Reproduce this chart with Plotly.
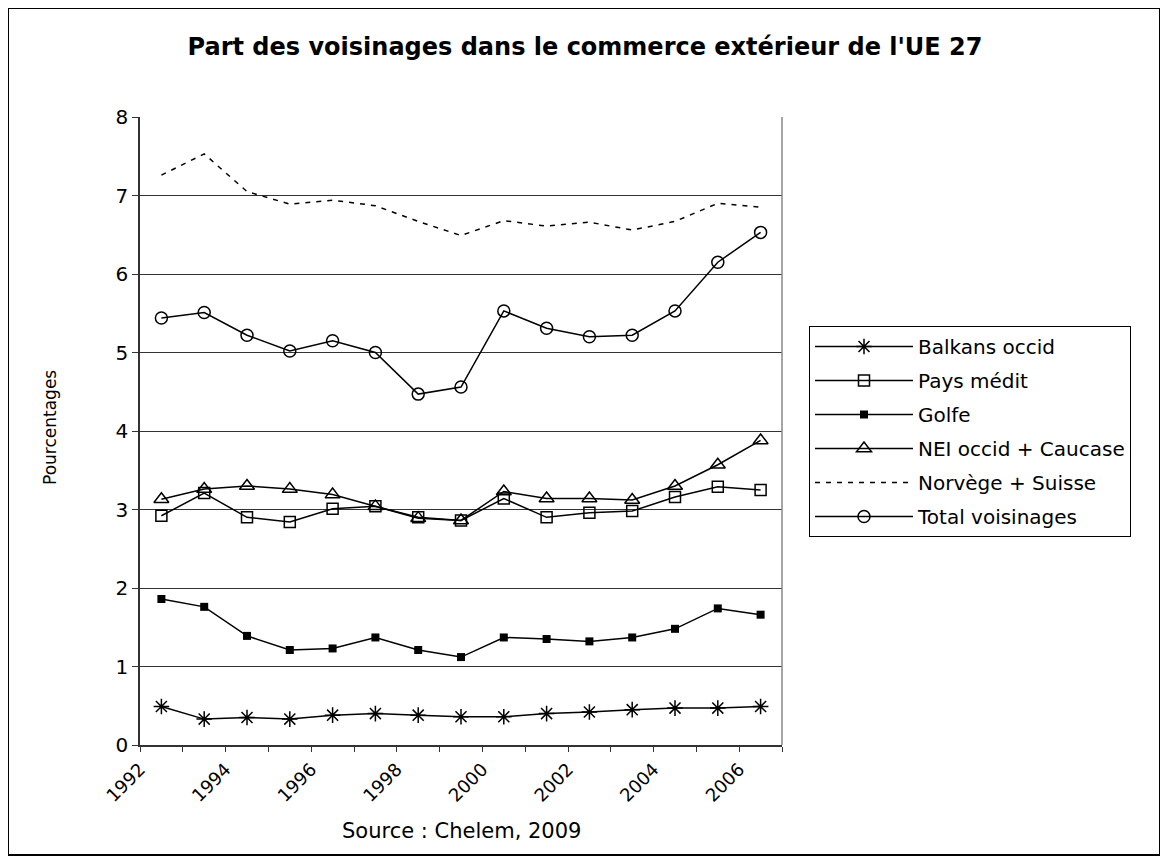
import plotly.graph_objects as go

years = list(range(1992, 2007))
tick_years = list(range(1992, 2008))

balkans = [0.49, 0.33, 0.35, 0.33, 0.38, 0.40, 0.38, 0.36, 0.36, 0.40, 0.42, 0.45, 0.47, 0.47, 0.49]
pays_medit = [2.92, 3.21, 2.90, 2.84, 3.01, 3.04, 2.90, 2.86, 3.14, 2.90, 2.96, 2.98, 3.16, 3.29, 3.25]
golfe = [1.86, 1.76, 1.39, 1.21, 1.23, 1.37, 1.21, 1.12, 1.37, 1.35, 1.32, 1.37, 1.48, 1.74, 1.66]
nei_caucase = [3.13, 3.26, 3.30, 3.26, 3.19, 3.04, 2.89, 2.86, 3.23, 3.14, 3.14, 3.12, 3.30, 3.57, 3.88]
norvege_suisse = [7.26, 7.53, 7.05, 6.89, 6.94, 6.87, 6.67, 6.49, 6.68, 6.61, 6.66, 6.56, 6.67, 6.90, 6.85]
total = [5.44, 5.51, 5.22, 5.02, 5.15, 5.00, 4.47, 4.56, 5.53, 5.31, 5.20, 5.22, 5.53, 6.15, 6.53]

# points are plotted in the middle of each year period
xpos = [y + 0.5 for y in years]
tick_text = [str(y) if y % 2 == 0 else "" for y in tick_years]

FONT = "DejaVu Sans, Arial, sans-serif"
BLACK = "black"

series = [
    ("Balkans occid", balkans, dict(symbol="asterisk-open", size=13, color=BLACK, line=dict(width=1.5, color=BLACK)), "solid"),
    ("Pays médit", pays_medit, dict(symbol="square-open", size=11, color=BLACK, line=dict(width=1.5, color=BLACK)), "solid"),
    ("Golfe", golfe, dict(symbol="square", size=8, color=BLACK, line=dict(width=0)), "solid"),
    ("NEI occid + Caucase", nei_caucase, dict(symbol="triangle-up-open", size=13, color=BLACK, line=dict(width=1.5, color=BLACK)), "solid"),
    ("Norvège + Suisse", norvege_suisse, None, "5px,6px"),
    ("Total voisinages", total, dict(symbol="circle-open", size=12, color=BLACK, line=dict(width=1.5, color=BLACK)), "solid"),
]

fig = go.Figure()
for i, (name, vals, marker, dash) in enumerate(series):
    fig.add_trace(go.Scatter(
        x=xpos, y=vals, name=name,
        mode="lines+markers" if marker else "lines",
        line=dict(color=BLACK, width=1.5, dash=dash),
        marker=marker if marker else None,
        legendgroup="g%d" % i,
    ))

# page has an 8px body margin
OFF = 8
W, H = 1160, 853
L, R, T, B = 132, 386, 109, 116
pw = W - L - R
ph = H - T - B


def px_x(p):
    return (p - OFF - L) / pw


def px_y(p):
    return (H - B - (p - OFF)) / ph


fig.update_layout(
    width=W, height=H,
    margin=dict(l=L, r=R, t=T, b=B),
    paper_bgcolor="white", plot_bgcolor="white",
    font=dict(family=FONT, color=BLACK, size=16),
    title=dict(text="<b>Part des voisinages dans le commerce extérieur de l'UE 27</b>",
               x=(585 - OFF) / W, xanchor="center", xref="container",
               y=1 - (47 - OFF) / H, yanchor="middle", yref="container",
               font=dict(size=24, family=FONT)),
    showlegend=True,
    legend=dict(
        x=px_x(809), y=px_y(326), xanchor="left", yanchor="top",
        bordercolor=BLACK, borderwidth=1, bgcolor="white",
        font=dict(size=20, family=FONT),
        traceorder="grouped", tracegroupgap=5,
        itemwidth=98,
    ),
    xaxis=dict(
        range=[1992, 2007], tickmode="array", tickvals=tick_years, ticktext=tick_text,
        tickangle=-45, ticks="outside", ticklen=5, tickcolor="#333",
        showline=True, linecolor="#333", linewidth=1.5, mirror=False,
        showgrid=False, zeroline=False,
        tickfont=dict(size=18, family=FONT),
    ),
    yaxis=dict(
        range=[0, 8], tickvals=list(range(0, 9)), ticks="outside", ticklen=6, tickcolor="#333",
        showline=True, linecolor="#333", linewidth=1.5,
        showgrid=True, gridcolor="#333", gridwidth=1, zeroline=False,
        tickfont=dict(size=20, family=FONT),
    ),
    annotations=[
        dict(text="Pourcentages", xref="paper", yref="paper", x=px_x(50), y=px_y(428),
             textangle=-90, showarrow=False, font=dict(size=17, family=FONT),
             xanchor="center", yanchor="middle"),
        dict(text="Source : Chelem, 2009", xref="paper", yref="paper", x=px_x(461), y=px_y(831),
             showarrow=False, font=dict(size=21, family=FONT), xanchor="center", yanchor="middle"),
    ],
    shapes=[
        dict(type="rect", xref="paper", yref="paper",
             x0=px_x(8), x1=px_x(1160), y0=px_y(855), y1=px_y(8),
             line=dict(color=BLACK, width=2), fillcolor="rgba(0,0,0,0)", layer="below"),
        dict(type="line", xref="paper", yref="paper", x0=1, x1=1, y0=0, y1=1,
             line=dict(color="#888", width=1.5)),
    ],
)

fig.write_html("out.html")
